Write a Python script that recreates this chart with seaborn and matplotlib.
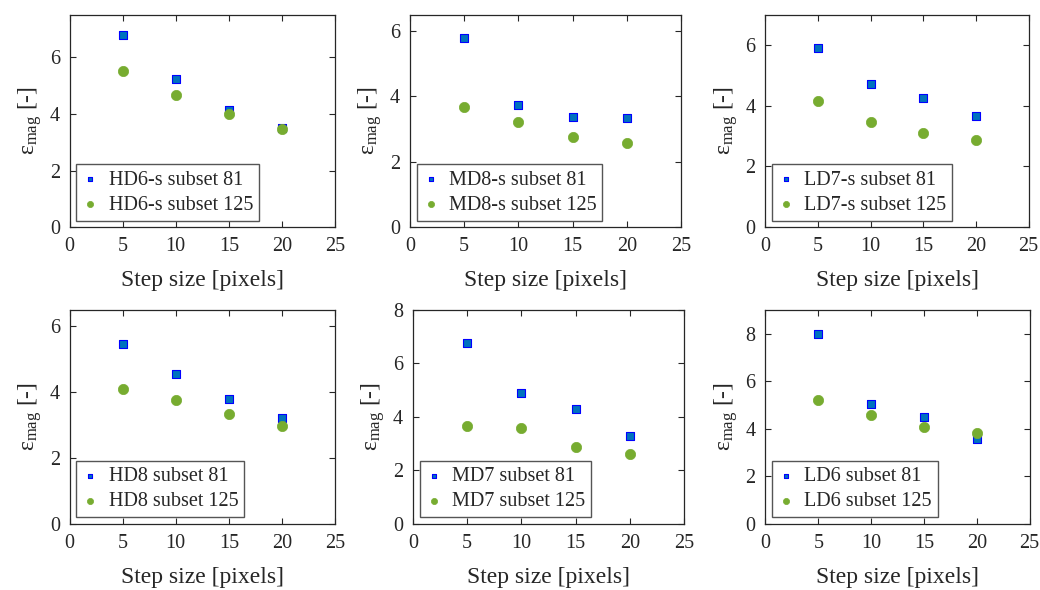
"""Step size vs. magnitude error for six speckle patterns."""

import matplotlib

matplotlib.use("Agg")

import matplotlib.pyplot as plt
import seaborn as sns


step_sizes = [5, 10, 15, 20]

pattern_names = ["HD6-s", "MD8-s", "LD7-s", "HD8", "MD7", "LD6"]

subset81 = {
    "HD6-s": [6.77, 5.24, 4.12, 3.50],
    "MD8-s": [5.79, 3.73, 3.38, 3.35],
    "LD7-s": [5.91, 4.72, 4.25, 3.65],
    "HD8": [5.45, 4.56, 3.78, 3.22],
    "MD7": [6.76, 4.88, 4.29, 3.29],
    "LD6": [7.97, 5.06, 4.48, 3.57],
}

subset125 = {
    "HD6-s": [5.51, 4.66, 3.99, 3.46],
    "MD8-s": [3.67, 3.21, 2.77, 2.59],
    "LD7-s": [4.16, 3.46, 3.11, 2.88],
    "HD8": [4.09, 3.75, 3.35, 2.96],
    "MD7": [3.66, 3.60, 2.87, 2.60],
    "LD6": [5.22, 4.59, 4.06, 3.80],
}

y_limits = {"HD6-s": 7.5, "MD8-s": 6.5, "LD7-s": 7.0, "HD8": 6.5, "MD7": 8.0, "LD6": 9.0}

# axes rectangles in figure fractions
axes_rects = [
    [0.067, 0.615, 0.255, 0.360],
    [0.394, 0.615, 0.261, 0.360],
    [0.736, 0.615, 0.253, 0.360],
    [0.067, 0.112, 0.255, 0.363],
    [0.397, 0.112, 0.261, 0.363],
    [0.736, 0.112, 0.254, 0.363],
]

sns.set_style("ticks")
plt.rcParams["font.family"] = ["Liberation Serif", "DejaVu Serif"]
plt.rcParams["mathtext.fontset"] = "custom"
plt.rcParams["mathtext.rm"] = "Liberation Serif"
plt.rcParams["mathtext.it"] = "Liberation Serif:italic"

fig = plt.figure(figsize=(10.4, 5.9), dpi=100)

for name, rect in zip(pattern_names, axes_rects):
    ax = fig.add_axes(rect)
    sns.scatterplot(
        x=step_sizes, y=subset81[name], ax=ax, marker="s", s=34,
        color="#0072BD", edgecolor="#0000FF", linewidth=0.8,
        label=f"{name} subset 81", zorder=3,
    )
    sns.scatterplot(
        x=step_sizes, y=subset125[name], ax=ax, marker="o", s=55,
        color="#77AC30", edgecolor="#77AC30", linewidth=0.5,
        label=f"{name} subset 125", zorder=3,
    )
    ax.set_xlim(0, 25)
    ax.set_ylim(0, y_limits[name])
    ax.set_xticks([0, 5, 10, 15, 20, 25])
    ax.set_yticks(range(0, int(y_limits[name]) + 1, 2))
    ax.tick_params(direction="in", length=4, width=0.8, top=True, right=True,
                   labelsize=14.5, colors="#262626", pad=7)
    for spine in ax.spines.values():
        spine.set_visible(True)
        spine.set_color("#262626")
        spine.set_linewidth(0.9)
    ax.set_xlabel("Step size [pixels]", fontsize=17, color="#262626", labelpad=10)
    ax.set_ylabel(r"$\mathrm{\varepsilon}_{\mathrm{mag}}$ [-]", fontsize=17,
                  color="#262626", labelpad=4)
    legend = ax.legend(loc="lower left", bbox_to_anchor=(0.025, 0.03),
                       borderaxespad=0, fontsize=14.5, markerscale=0.6,
                       fancybox=False, framealpha=1, edgecolor="#555555",
                       handlelength=0.8, handletextpad=0.5, borderpad=0.3,
                       labelspacing=0.3)
    legend.get_frame().set_linewidth(1.0)

fig.savefig("out.png", dpi=100)
plt.close(fig)
